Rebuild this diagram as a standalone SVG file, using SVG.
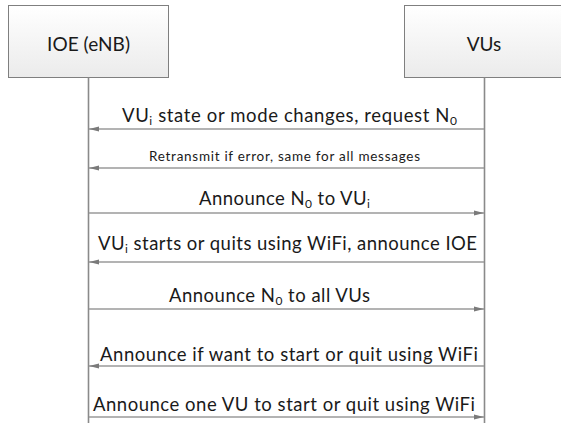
<svg xmlns="http://www.w3.org/2000/svg" width="561" height="423" viewBox="0 0 561 423">
  <defs>
    <linearGradient id="boxFill" x1="0" y1="0" x2="0" y2="1">
      <stop offset="0" stop-color="#ffffff"/>
      <stop offset="1" stop-color="#ebebeb"/>
    </linearGradient>
    <marker id="head" viewBox="0 0 10 6" refX="10" refY="3" markerWidth="10" markerHeight="6" markerUnits="userSpaceOnUse" orient="auto">
      <path d="M0,0.6 L10,3 L0,5.4 Z" fill="#7a7a7a"/>
    </marker>
  </defs>
  <style>
    .box { fill: url(#boxFill); stroke: #7f7f7f; stroke-width: 1; }
    .life { stroke: #8a8a8a; stroke-width: 1.6; fill: none; }
    .msg { stroke: #9a9a9a; stroke-width: 1.4; fill: none; marker-end: url(#head); }
    text { font-family: Lato, "Open Sans", "Liberation Sans", sans-serif; fill: #1a1a1a; }
    .title { font-size: 19px; text-anchor: middle; }
    .lbl { font-size: 18.5px; }
    .small { font-size: 13.5px; }
    .sub { font-size: 12px; }
  </style>
  <rect width="561" height="423" fill="#ffffff"/>

  <g id="ioe">
    <rect class="box" x="8.5" y="5.5" width="160" height="72"/>
    <text class="title" x="88.5" y="51" textLength="83" lengthAdjust="spacing">IOE (eNB)</text>
    <line class="life" x1="88.5" y1="77.5" x2="88.5" y2="423"/>
  </g>

  <g id="vus">
    <rect class="box" x="404.5" y="5.5" width="160" height="72"/>
    <text class="title" x="484" y="51">VUs</text>
    <line class="life" x1="484.5" y1="77.5" x2="484.5" y2="423"/>
  </g>

  <g id="connectors">
    <line class="msg" x1="484" y1="129" x2="89" y2="129"/>
    <line class="msg" x1="484" y1="168" x2="89" y2="168"/>
    <line class="msg" x1="89" y1="213" x2="484" y2="213"/>
    <line class="msg" x1="484" y1="262" x2="89" y2="262"/>
    <line class="msg" x1="89" y1="309" x2="484" y2="309"/>
    <line class="msg" x1="484" y1="366" x2="89" y2="366"/>
    <line class="msg" x1="89" y1="417" x2="484" y2="417"/>
  </g>

  <g id="labels">
    <text class="lbl" x="122" y="122" textLength="335" lengthAdjust="spacing">VU<tspan class="sub" dy="3">i</tspan><tspan dy="-3"> state or mode changes, request N</tspan><tspan class="sub" dy="3">0</tspan></text>
    <text class="small" x="149" y="161" textLength="271" lengthAdjust="spacing">Retransmit if error, same for all messages</text>
    <text class="lbl" x="199" y="205" textLength="171" lengthAdjust="spacing">Announce N<tspan class="sub" dy="3">0</tspan><tspan dy="-3"> to VU</tspan><tspan class="sub" dy="3">i</tspan></text>
    <text class="lbl" x="98" y="250" textLength="379" lengthAdjust="spacing">VU<tspan class="sub" dy="3">i</tspan><tspan dy="-3"> starts or quits using WiFi, announce IOE</tspan></text>
    <text class="lbl" x="169" y="302" textLength="201" lengthAdjust="spacing">Announce N<tspan class="sub" dy="3">0</tspan><tspan dy="-3"> to all VUs</tspan></text>
    <text class="lbl" x="100" y="361" textLength="378" lengthAdjust="spacing">Announce if want to start or quit using WiFi</text>
    <text class="lbl" x="93" y="411" textLength="382" lengthAdjust="spacing">Announce one VU to start or quit using WiFi</text>
  </g>
</svg>
